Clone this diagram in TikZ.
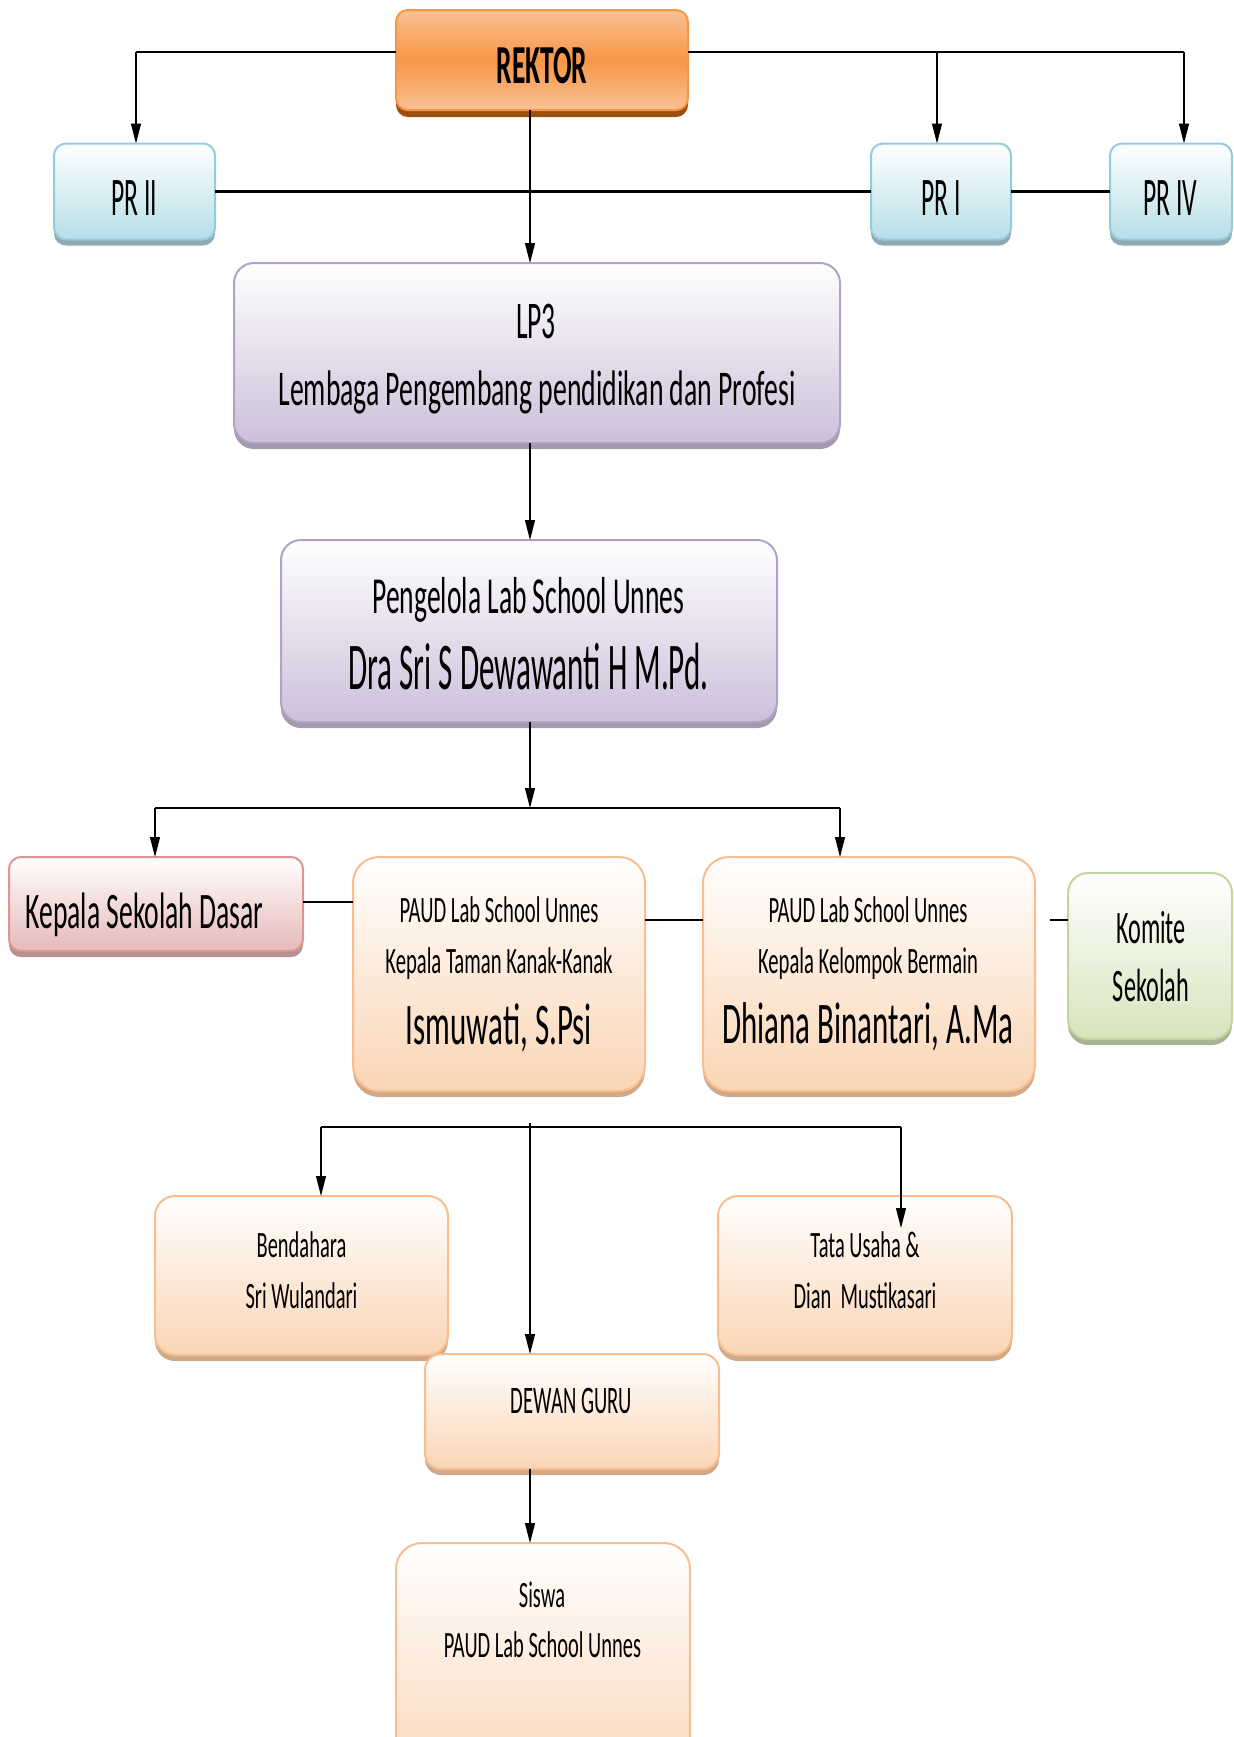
\documentclass[tikz,border=0pt]{standalone}
\usepackage{fontspec}
\setmainfont{Carlito}
\usetikzlibrary{arrows.meta,shadows}
\newcommand{\sx}[2]{\scalebox{#1}[1]{#2}}
\definecolor{orM}{HTML}{F79646}
\definecolor{orL}{HTML}{FAC196}
\definecolor{orS}{HTML}{9C4F0E}
\definecolor{blB}{HTML}{B7DEE8}
\definecolor{blD}{HTML}{92CDDC}
\definecolor{blS}{HTML}{8FAAB3}
\definecolor{puB}{HTML}{CCC0DA}
\definecolor{puD}{HTML}{B3A2C7}
\definecolor{puS}{HTML}{A39AAE}
\definecolor{rdB}{HTML}{E6B9B8}
\definecolor{rdD}{HTML}{D99694}
\definecolor{rdS}{HTML}{B99190}
\definecolor{pcB}{HTML}{FAD5B5}
\definecolor{pcD}{HTML}{F9BE8F}
\definecolor{pcS}{HTML}{CFA98A}
\definecolor{gnB}{HTML}{D7E4BD}
\definecolor{gnD}{HTML}{C3D69B}
\definecolor{gnS}{HTML}{A9B496}
\tikzset{
  sz/.style 2 args={minimum width=#1*0.5pt, minimum height=#2*0.5pt},
  box/.style n args={3}{draw=#2, line width=1pt, top color=white, bottom color=#1,
    rounded corners=8pt, inner sep=0pt, outer sep=0pt,
    drop shadow={shadow xshift=0pt, shadow yshift=-3pt, fill=#3, opacity=1}},
  txt/.style={inner sep=0pt, outer sep=0pt, anchor=base, text=black},
  hl/.style={line width=1.1pt, draw=black},
  arr/.style={line width=0.6pt, draw=black, -{Triangle[length=10pt,width=5pt]}},
}
\begin{document}
\begin{tikzpicture}[x=0.5pt,y=-0.5pt]
\useasboundingbox (0,0) rectangle (1234,1737);
\fill[white] (0,0) rectangle (1234,1737);

% ---- boxes ----
\node[draw=orM, line width=1pt, top color=orL, bottom color=orL, middle color=orM,
  rounded corners=6pt, inner sep=0pt, outer sep=0pt,
  drop shadow={shadow xshift=0pt, shadow yshift=-3.5pt, fill=orS, opacity=1},
  sz={292}{100}] (rektor) at (542,60) {};
\node[box={blB}{blD}{blS}, rounded corners=6pt, sz={161}{96}] (pr2) at (134.5,191.5) {};
\node[box={blB}{blD}{blS}, rounded corners=6pt, sz={140}{96}] (pr1) at (941,191.5) {};
\node[box={blB}{blD}{blS}, rounded corners=6pt, sz={122}{96}] (pr4) at (1171,191.5) {};
\node[box={puB}{puD}{puS}, rounded corners=10pt, sz={606}{180}] (lp3) at (537,353) {};
\node[box={puB}{puD}{puS}, rounded corners=10pt, sz={496}{182}] (peng) at (529,631) {};
\node[box={rdB}{rdD}{rdS}, rounded corners=6pt, sz={294}{94}] (ksd) at (156,904) {};
\node[box={pcB}{pcD}{pcS}, rounded corners=13pt, sz={292}{234}] (tk) at (499,974) {};
\node[box={pcB}{pcD}{pcS}, rounded corners=13pt, sz={332}{234}] (kb) at (869,974) {};
\node[box={gnB}{gnD}{gnS}, rounded corners=10pt, sz={164}{166}] (komite) at (1150,956) {};
\node[box={pcB}{pcD}{pcS}, rounded corners=10pt, sz={293}{159}] (bend) at (301.5,1275.5) {};
\node[box={pcB}{pcD}{pcS}, rounded corners=10pt, sz={294}{159}] (tata) at (865,1275.5) {};
\node[box={pcB}{pcD}{pcS}, rounded corners=8pt, sz={294}{115}] (dewan) at (572,1411.5) {};
\node[box={pcB}{pcD}{pcS}, rounded corners=13pt, sz={294}{260}] (siswa) at (543,1673) {};

% ---- texts ----
\node[txt, font=\fontsize{27.5}{30}\selectfont\bfseries] (rektor-t) at (542,83) {\sx{0.50}{REKTOR}};
\node[txt, font=\fontsize{27.2}{30}\selectfont] (pr2-t) at (134.5,215) {\sx{0.47}{PR II}};
\node[txt, font=\fontsize{27.2}{30}\selectfont] (pr1-t) at (941,215) {\sx{0.47}{PR I}};
\node[txt, font=\fontsize{27.2}{30}\selectfont] (pr4-t) at (1170.5,215) {\sx{0.47}{PR IV}};
\node[txt, font=\fontsize{26.5}{30}\selectfont] (lp3-t1) at (536,338) {\sx{0.52}{LP3}};
\node[txt, font=\fontsize{25}{28}\selectfont] (lp3-t2) at (537,405) {\sx{0.555}{Lembaga Pengembang pendidikan dan Profesi}};
\node[txt, font=\fontsize{26}{28}\selectfont] (peng-t1) at (528.5,613) {\sx{0.53}{Pengelola Lab School Unnes}};
\node[txt, font=\fontsize{33.4}{36}\selectfont] (peng-t2) at (528.5,689) {\sx{0.465}{Dra Sri S Dewawanti H M.Pd.}};
\node[txt, font=\fontsize{25.6}{28}\selectfont] (ksd-t) at (144.5,928) {\sx{0.54}{Kepala Sekolah Dasar}};
\node[txt, font=\fontsize{18.6}{20}\selectfont] (tk-t1) at (499,922) {\sx{0.555}{PAUD Lab School Unnes}};
\node[txt, font=\fontsize{18.6}{20}\selectfont] (tk-t2) at (499,973) {\sx{0.555}{Kepala Taman Kanak-Kanak}};
\node[txt, font=\fontsize{29.5}{32}\selectfont] (tk-t3) at (499,1044) {\sx{0.525}{Ismuwati, S.Psi}};
\node[txt, font=\fontsize{18.6}{20}\selectfont] (kb-t1) at (868,922) {\sx{0.555}{PAUD Lab School Unnes}};
\node[txt, font=\fontsize{18.6}{20}\selectfont] (kb-t2) at (868,973) {\sx{0.555}{Kepala Kelompok Bermain}};
\node[txt, font=\fontsize{29.5}{32}\selectfont] (kb-t3) at (868,1043) {\sx{0.525}{Dhiana Binantari, A.Ma}};
\node[txt, font=\fontsize{23.3}{26}\selectfont] (komite-t1) at (1151,943) {\sx{0.52}{Komite}};
\node[txt, font=\fontsize{23.3}{26}\selectfont] (komite-t2) at (1151,1001) {\sx{0.52}{Sekolah}};
\node[txt, font=\fontsize{18.6}{20}\selectfont] (bend-t1) at (301.5,1257) {\sx{0.55}{Bendahara}};
\node[txt, font=\fontsize{18.6}{20}\selectfont] (bend-t2) at (301.5,1308) {\sx{0.55}{Sri Wulandari}};
\node[txt, font=\fontsize{18.6}{20}\selectfont] (tata-t1) at (865,1257) {\sx{0.55}{Tata Usaha \&}};
\node[txt, font=\fontsize{18.6}{20}\selectfont] (tata-t2) at (865,1308) {\sx{0.55}{Dian~ Mustikasari}};
\node[txt, font=\fontsize{19.5}{22}\selectfont] (dewan-t) at (571.5,1413) {\sx{0.53}{DEWAN GURU}};
\node[txt, font=\fontsize{18.6}{20}\selectfont] (siswa-t1) at (542,1607) {\sx{0.55}{Siswa}};
\node[txt, font=\fontsize{18.6}{20}\selectfont] (siswa-t2) at (542.5,1657) {\sx{0.55}{PAUD Lab School Unnes}};

% ---- connectors ----
\coordinate (spine) at (530,0);
\coordinate (tl) at (136,52);
\coordinate (t1) at (937,52);
\coordinate (tr) at (1184,52);
\draw[hl] (rektor.west |- tl) -- (tl);
\draw[hl] (rektor.east |- tr) -- (tr);
\draw[arr] (tl) -- (pr2.north -| tl);
\draw[arr] (t1) -- (pr1.north -| t1);
\draw[arr] (tr) -- (pr4.north -| tr);
\draw[hl] (pr2.east) -- (pr1.west);
\draw[hl] (pr1.east) -- (pr4.west);
\draw[arr] (rektor.south -| spine) -- (lp3.north -| spine);
\draw[arr] (lp3.south -| spine) -- (peng.north -| spine);
\coordinate (h1) at (530,808);
\coordinate (h1l) at (155,808);
\coordinate (h1r) at (840,808);
\draw[arr] (peng.south -| spine) -- (h1);
\draw[hl] (h1l) -- (h1r);
\draw[arr] (h1l) -- (ksd.north -| h1l);
\draw[arr] (h1r) -- (kb.north -| h1r);
\coordinate (m1) at (0,902);
\coordinate (m2) at (0,920);
\coordinate (kd) at (1050,920);
\draw[hl] (ksd.east |- m1) -- (tk.west |- m1);
\draw[hl] (tk.east |- m2) -- (kb.west |- m2);
\draw[hl] (kd) -- (komite.west |- kd);
\coordinate (l0) at (530,1123);
\coordinate (ll) at (321,1127);
\coordinate (lr) at (901,1127);
\coordinate (tu) at (901,1228);
\draw[hl] (ll) -- (lr);
\draw[arr] (l0) -- (dewan.north -| l0);
\draw[arr] (ll) -- (bend.north -| ll);
\draw[arr] (lr) -- (tu);
\draw[arr] (dewan.south -| spine) -- (siswa.north -| spine);
\end{tikzpicture}
\end{document}
